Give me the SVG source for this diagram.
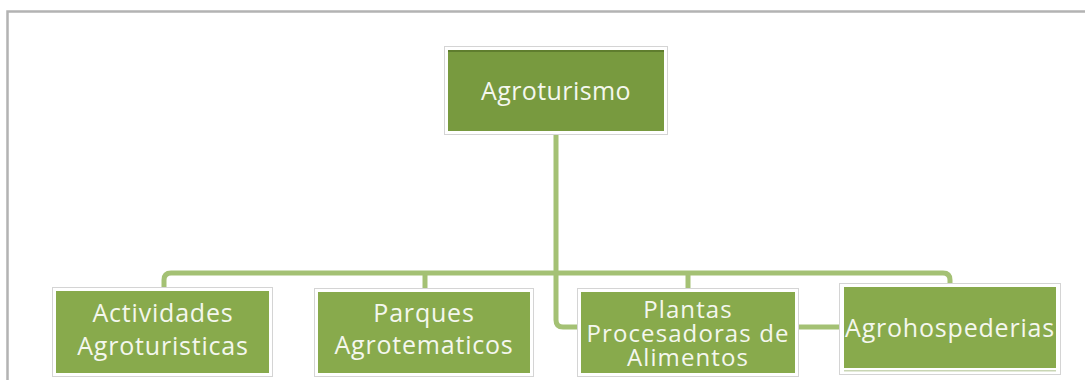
<svg xmlns="http://www.w3.org/2000/svg" width="1085" height="380" viewBox="0 0 1085 380">
<style>
.frame{fill:none;stroke:#b3b3b3;stroke-width:2.5}
.halo{fill:#ffffff;stroke:#d4d4d4;stroke-width:1}
.root{fill:#789a3f}
.child{fill:#88aa4c}
.conn{fill:none;stroke:#a4c174;stroke-width:5;stroke-linejoin:round}
.t{font-family:"Open Sans","Noto Sans","DejaVu Sans",sans-serif;font-size:25px;fill:#f4f7ee;text-anchor:middle;letter-spacing:0.8px}
.s{font-size:24px;letter-spacing:1.1px}
</style>
<rect width="1085" height="380" fill="#ffffff"/>
<path class="frame" d="M7.5 380 V11.5 H1085"/>
<g id="connectors">
<path class="conn" d="M556 132 V320 Q556 327 563 327 H581"/>
<path class="conn" d="M164 291 V280 Q164 273 171 273 H943 Q950 273 950 280 V287"/>
<path class="conn" d="M425 273 V292"/>
<path class="conn" d="M688 273 V292"/>
<path class="conn" d="M795 327 H844"/>
</g>
<g id="agroturismo">
<rect class="halo" x="444.5" y="46.5" width="223" height="88"/>
<rect class="root" x="448" y="50" width="216" height="81"/>
<rect x="448" y="50" width="216" height="2" fill="#5f7d2e"/>
<text class="t" x="556" y="100" style="letter-spacing:0.4px">Agroturismo</text>
</g>
<g id="actividades">
<rect class="halo" x="52.5" y="287.5" width="220" height="89"/>
<rect class="child" x="56" y="291" width="213" height="82"/>
<text class="t" x="163" y="322">Actividades</text>
<text class="t" x="163" y="355">Agroturisticas</text>
</g>
<g id="parques">
<rect class="halo" x="314.5" y="288.5" width="219" height="88"/>
<rect class="child" x="318" y="292" width="212" height="81"/>
<text class="t" x="424" y="322">Parques</text>
<text class="t" x="424" y="354">Agrotematicos</text>
</g>
<g id="plantas">
<rect class="halo" x="577.5" y="288.5" width="221" height="88"/>
<rect class="child" x="581" y="292" width="214" height="81"/>
<text class="t s" x="688" y="318">Plantas</text>
<text class="t s" x="688" y="342">Procesadoras de</text>
<text class="t s" x="688" y="366">Alimentos</text>
</g>
<g id="agrohospederias">
<rect class="halo" x="839.5" y="283.5" width="221" height="91"/>
<rect class="child" x="844" y="287" width="212" height="81"/>
<rect x="844" y="370" width="212" height="1.5" fill="#c9d6b4"/>
<text class="t" x="950" y="337">Agrohospederias</text>
</g>
</svg>
